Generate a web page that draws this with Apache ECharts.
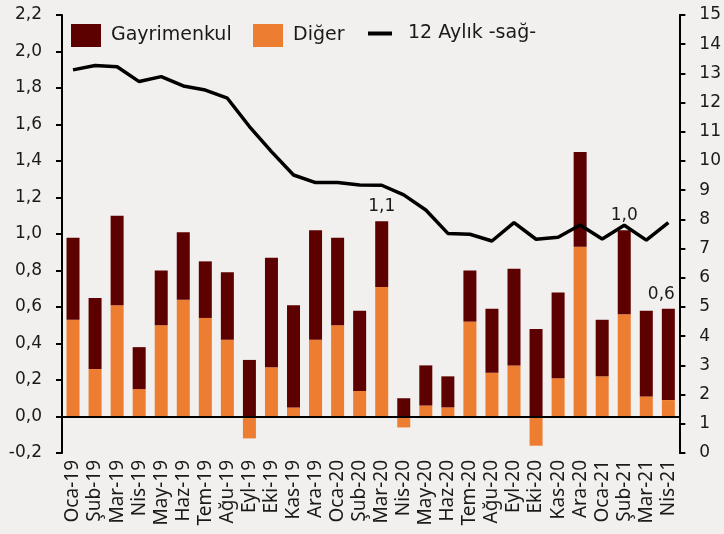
<!DOCTYPE html>
<html>
<head>
<meta charset="utf-8">
<script src="https://cdn.jsdelivr.net/npm/echarts@6/dist/echarts.min.js"></script>
<style>
  html, body { margin: 0; padding: 0; background: #f2f0ee; }
  #chart { width: 724px; height: 534px; }
</style>
</head>
<body>
<div id="chart"></div>
<script>
const months = ['Oca-19', 'Şub-19', 'Mar-19', 'Nis-19', 'May-19', 'Haz-19', 'Tem-19', 'Ağu-19', 'Eyl-19', 'Eki-19',
  'Kas-19', 'Ara-19', 'Oca-20', 'Şub-20', 'Mar-20', 'Nis-20', 'May-20', 'Haz-20', 'Tem-20', 'Ağu-20',
  'Eyl-20', 'Eki-20', 'Kas-20', 'Ara-20', 'Oca-21', 'Şub-21', 'Mar-21', 'Nis-21']

// Diğer (bottom, orange)
const diger = [0.53, 0.26, 0.61, 0.15, 0.50, 0.64, 0.54, 0.42, -0.12, 0.27,
  0.05, 0.42, 0.50, 0.14, 0.71, -0.06, 0.06, 0.05, 0.52, 0.24,
  0.28, -0.16, 0.21, 0.93, 0.22, 0.56, 0.11, 0.09]

// Gayrimenkul (stacked on top, dark red)
const gayrimenkul = [0.45, 0.39, 0.49, 0.23, 0.30, 0.37, 0.31, 0.37, 0.31, 0.60,
  0.56, 0.60, 0.48, 0.44, 0.36, 0.10, 0.22, 0.17, 0.28, 0.35,
  0.53, 0.48, 0.47, 0.52, 0.31, 0.46, 0.47, 0.50]

// 12 Aylık -sağ- (right axis)
const yillik = [13.12, 13.27, 13.23, 12.72, 12.89, 12.57, 12.43, 12.15, 11.18, 10.32,
  9.52, 9.26, 9.26, 9.18, 9.17, 8.84, 8.32, 7.52, 7.49, 7.26,
  7.89, 7.32, 7.39, 7.81, 7.33, 7.80, 7.29, 7.89]

// months whose total gets a label
const labelled = ['Mar-20', 'Şub-21', 'Nis-21']

const FONT = 'DejaVu Sans'
const comma = v => v.toFixed(1).replace('.', ',')

const chart = echarts.init(document.getElementById('chart'))

const gayData = gayrimenkul.map((v, i) => {
  if (!labelled.includes(months[i])) return v
  return {
    value: v,
    label: {
      show: true,
      position: 'top',
      distance: 6,
      offset: months[i] === 'Nis-21' ? [-7, 0] : [0, 0],
      color: '#1a1a1a',
      fontFamily: FONT,
      fontSize: 17,
      formatter: () => comma(v + Math.max(diger[i], 0))
    }
  }
})

const legendText = { color: '#1a1a1a', fontFamily: FONT, fontSize: 19, padding: [0, 0, 0, 5] }

const option = {
  backgroundColor: '#f2f0ee',
  animation: false,
  grid: { left: 62, right: 44, top: 15, bottom: 81 },
  legend: [
    { data: ['Gayrimenkul'], left: 71, top: 24, padding: 0, icon: 'rect', itemWidth: 30, itemHeight: 23, textStyle: legendText },
    { data: ['Diğer'], left: 253, top: 24, padding: 0, icon: 'rect', itemWidth: 30, itemHeight: 23, textStyle: legendText },
    {
      data: ['12 Aylık -sağ-'], left: 368, top: 24, padding: 0, icon: 'rect', itemWidth: 24, itemHeight: 4,
      itemStyle: { color: '#000' }, textStyle: { ...legendText, padding: [0, 0, 0, 11] }
    }
  ],
  xAxis: {
    type: 'category',
    data: months,
    axisLine: { show: false },
    axisTick: { show: false },
    axisLabel: {
      rotate: 90,
      interval: 0,
      margin: 7,
      color: '#1a1a1a',
      fontFamily: 'Noto Sans',
      fontSize: 19
    }
  },
  yAxis: [
    {
      type: 'value',
      min: -0.2,
      max: 2.2,
      interval: 0.2,
      splitLine: { show: false },
      axisLine: { show: true, lineStyle: { color: '#000', width: 2 } },
      axisTick: { show: true, length: 6, lineStyle: { color: '#000', width: 2 } },
      axisLabel: { margin: 20, color: '#1a1a1a', fontFamily: FONT, fontSize: 17, formatter: comma }
    },
    {
      type: 'value',
      min: 0,
      max: 15,
      interval: 1,
      position: 'right',
      splitLine: { show: false },
      axisLine: { show: true, lineStyle: { color: '#000', width: 2 } },
      axisTick: { show: true, length: 6, lineStyle: { color: '#000', width: 2 } },
      axisLabel: { margin: 20, color: '#1a1a1a', fontFamily: FONT, fontSize: 17 }
    }
  ],
  series: [
    {
      name: 'Diğer',
      type: 'bar',
      stack: 'toplam',
      barWidth: 13,
      itemStyle: { color: '#ed7d31' },
      data: diger,
      markLine: {
        silent: true,
        symbol: 'none',
        label: { show: false },
        lineStyle: { color: '#000', width: 2, type: 'solid' },
        data: [{ yAxis: 0 }]
      }
    },
    {
      name: 'Gayrimenkul',
      type: 'bar',
      stack: 'toplam',
      barWidth: 13,
      itemStyle: { color: '#5c0000' },
      data: gayData
    },
    {
      name: '12 Aylık -sağ-',
      type: 'line',
      yAxisIndex: 1,
      symbol: 'none',
      lineStyle: { color: '#000', width: 3.5 },
      itemStyle: { color: '#000' },
      data: yillik
    }
  ]
}

chart.setOption(option)
</script>
</body>
</html>
